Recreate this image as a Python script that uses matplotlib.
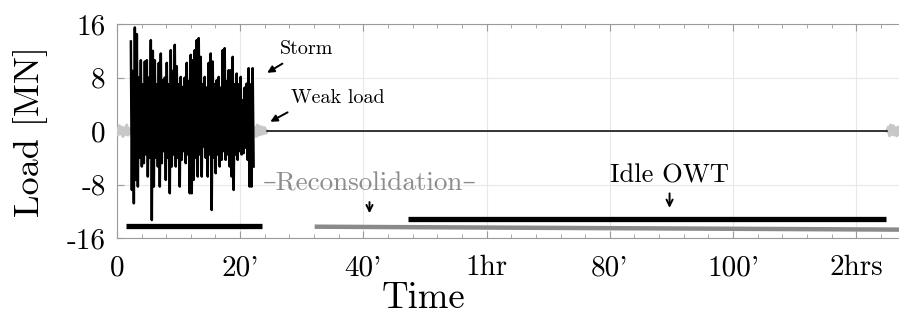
import matplotlib
matplotlib.use("Agg")
import matplotlib.pyplot as plt
import numpy as np
from matplotlib.ticker import MultipleLocator

# ---------------- data (minutes / MN) ----------------
storm_start, storm_step = 2.27, 0.324
storm_upper = [13.4, 9, 15.5, 14.5, 8, 10.6, 7, 10.4, 10.6, 8, 13.6, 12, 10.6, 7, 10.2, 11.6,
               7.6, 8, 10.2, 7, 12.1, 9, 12.9, 9.7, 7, 8.1, 6.6, 8, 10.2, 7.5, 11.4, 10.6,
               12.1, 13.6, 13.9, 11.1, 7, 8.1, 6.5, 10.2, 11.6, 10.4, 7, 7.6, 8.1, 6.5, 12.1,
               12.4, 7.5, 9.1, 9.1, 11.1, 7, 8.6, 7, 8.1, 4.6, 6.5, 7.1, 9.4, 7, 9.4]
storm_lower = [-8.8, -10.8, -7.3, -8.3, -4, -5.3, -4.8, -3.5, -6.8, -4, -13.3, -8.3, -4, -5.3,
               -8.3, -4.8, -3, -7.3, -4, -9.3, -5.3, -3.5, -5.3, -4, -8.3, -4.3, -3, -4.8, -3.5,
               -9.3, -9.3, -7.3, -4, -6.8, -3.5, -6.8, -2.3, -4, -6.8, -3.5, -11.8, -4, -6.3,
               -3.5, -5.3, -4.3, -3, -4.3, -3.5, -5.3, -6.8, -8.8, -3.5, -4.3, -3, -3.5, -3.3,
               -2.5, -4.3, -8.3, -8.3, -5.3]

weak_before_t = [0.0, 0.2, 0.4, 0.6, 0.8, 1.0, 1.2, 1.4, 1.6, 1.8, 2.0, 2.2]
weak_before_v = [0.3, -0.6, 0.8, -0.4, 0.6, -0.8, 0.5, -0.5, 0.9, -0.6, 0.4, -0.3]
weak_after_t = [22.4, 22.6, 22.8, 23.0, 23.2, 23.4, 23.6, 23.8, 24.0, 24.2, 24.4]
weak_after_v = [0.5, -0.8, 0.9, -0.6, 0.7, -0.5, 0.6, -0.4, 0.5, -0.3, 0.0]
weak_end_t = [125.0, 125.2, 125.4, 125.6, 125.8, 126.0, 126.2, 126.4, 126.6, 126.8, 127.0]
weak_end_v = [0.0, 0.6, -0.7, 0.9, -0.5, 0.8, -0.6, 0.5, -0.7, 0.6, -0.4]
idle_line_t = [24.4, 125.0]
idle_line_v = [0.0, 0.0]

bar_storm_t = [1.5, 23.5]; bar_storm_v = [-14.2, -14.2]
bar_recon_t = [32.1, 130.0]; bar_recon_v = [-14.3, -14.75]
bar_idle_t = [47.2, 124.9]; bar_idle_v = [-13.15, -13.15]

xticks = [0, 20, 40, 60, 80, 100, 120]
xticklabels = ["0", "20'", "40'", "1hr", "80'", "100'", "2hrs"]
yticks = [-16, -8, 0, 8, 16]
yticklabels = ["-16", "-8", "0", "8", "16"]

# ---------------- figure ----------------
plt.rcParams['font.family'] = ['cmr10', 'DejaVu Serif']
plt.rcParams['mathtext.fontset'] = 'cm'

fig = plt.figure(figsize=(8.99, 3.17), dpi=100)
ax = fig.add_axes([0.130, 0.249, 0.891, 0.675])

# storm signal: interleave peaks and troughs
n = len(storm_upper)
t_st, v_st = [], []
for i in range(n):
    t_st.append(storm_start + i * storm_step)
    v_st.append(storm_upper[i])
    t_st.append(storm_start + (i + 0.5) * storm_step)
    v_st.append(storm_lower[i])

grey_w = '#c8c8c8'
ax.plot(weak_before_t, weak_before_v, color=grey_w, lw=2.2, zorder=3)
ax.plot(weak_after_t, weak_after_v, color=grey_w, lw=2.2, zorder=3)
ax.plot(weak_end_t, weak_end_v, color=grey_w, lw=2.2, zorder=3)
ax.plot(t_st, v_st, color='black', lw=1.8, zorder=4)
ax.plot(idle_line_t, idle_line_v, color='black', lw=1.1, zorder=3)

ax.plot(bar_storm_t, bar_storm_v, color='black', lw=3.8, solid_capstyle='butt', zorder=3)
ax.plot(bar_recon_t, bar_recon_v, color='#8a8a8a', lw=3.2, solid_capstyle='butt', zorder=3)
ax.plot(bar_idle_t, bar_idle_v, color='black', lw=3.8, solid_capstyle='butt', zorder=3)

# annotations
ax.text(26.4, 12.3, "Storm", fontsize=14.5, va='center', ha='left')
ax.annotate("", xy=(24.0, 8.5), xytext=(27.25, 10.3),
            arrowprops=dict(arrowstyle='-|>', color='black', lw=1.4, mutation_scale=10))
ax.text(28.3, 4.9, "Weak load", fontsize=14.5, va='center', ha='left')
ax.annotate("", xy=(24.5, 1.2), xytext=(28.1, 3.0),
            arrowprops=dict(arrowstyle='-|>', color='black', lw=1.4, mutation_scale=10))
ax.text(41.0, -7.8, "–Reconsolidation–", fontsize=19.5, va='center', ha='center', color='#8c8c8c')
ax.annotate("", xy=(41.0, -12.7), xytext=(41.0, -10.2),
            arrowprops=dict(arrowstyle='->', color='black', lw=1.4, mutation_scale=11))
ax.text(89.7, -6.6, "Idle OWT", fontsize=19, va='center', ha='center')
ax.annotate("", xy=(89.7, -11.9), xytext=(89.7, -8.9),
            arrowprops=dict(arrowstyle='->', color='black', lw=1.4, mutation_scale=11))

# axes styling
ax.set_xlim(0, 130)
ax.set_ylim(-16, 16)
ax.set_xticks(xticks)
ax.set_xticklabels(xticklabels)
ax.set_yticks(yticks)
ax.set_yticklabels(yticklabels)
ax.xaxis.set_minor_locator(MultipleLocator(4))
ax.tick_params(axis='both', which='both', direction='in', top=True, right=True,
               colors='#9a9a9a', labelcolor='black', labelsize=21)
ax.tick_params(which='major', length=5, width=0.8)
ax.tick_params(which='minor', length=3, width=0.6)
ax.tick_params(axis='x', pad=12)
ax.tick_params(axis='y', pad=8)
for s in ax.spines.values():
    s.set_color('#9a9a9a')
    s.set_linewidth(0.8)
ax.grid(True, which='major', color='#e8e8e8', lw=0.8, zorder=0)
ax.set_axisbelow(True)

ax.set_xlabel("Time", fontsize=26.5)
ax.xaxis.set_label_coords(0.383, -0.205)
ax.set_ylabel("Load [MN]", fontsize=26)
ax.yaxis.set_label_coords(-0.086, 0.5)

fig.savefig("out.png", dpi=100)
